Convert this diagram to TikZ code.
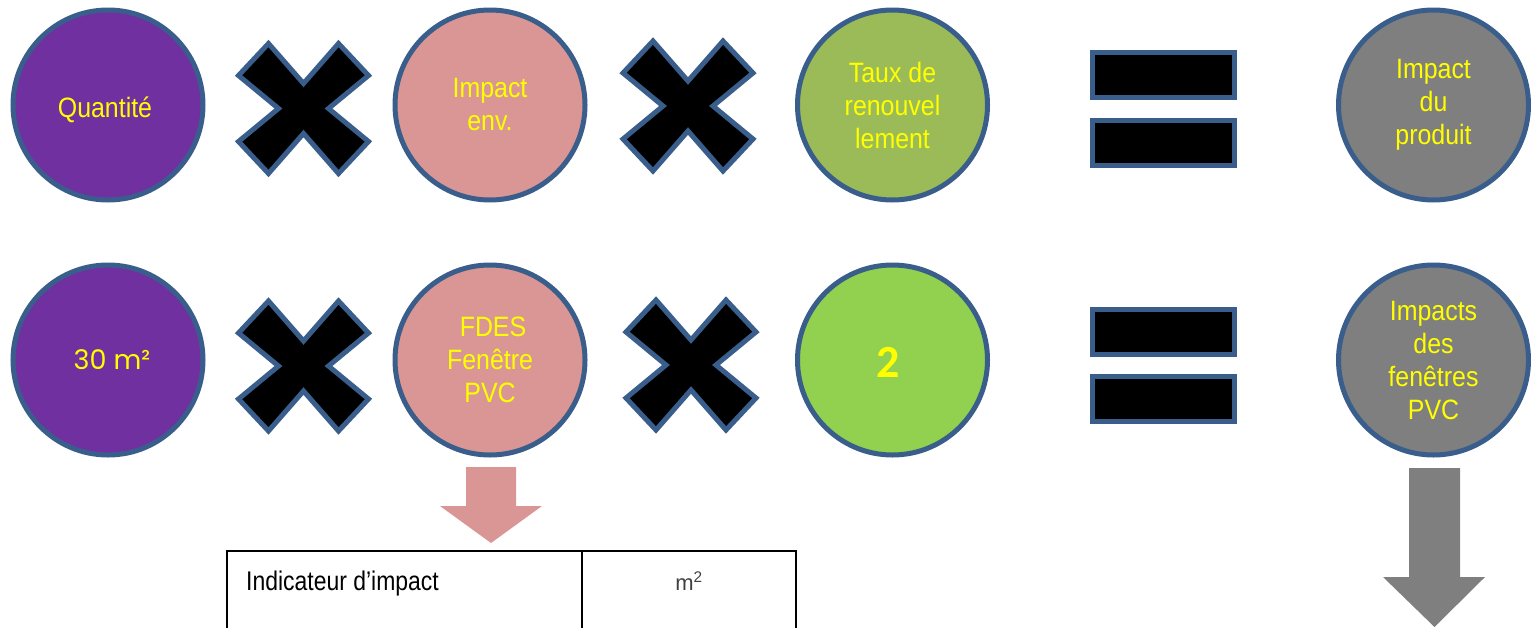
\documentclass[tikz,border=0pt]{standalone}
\usepackage{fontspec}
\setmainfont{Liberation Sans}
\newfontfamily\circfont[FakeStretch=0.89]{Liberation Sans}
\newfontfamily\tabfont[FakeStretch=0.85]{Liberation Sans}
\newfontfamily\geofont{Poppins}
\newfontfamily\calfont{Carlito}

\definecolor{edge}{HTML}{3A5E8C}
\definecolor{violet}{HTML}{7030A0}
\definecolor{rose}{HTML}{D99694}
\definecolor{olive}{HTML}{9BBB59}
\definecolor{lime}{HTML}{92D050}
\definecolor{slate}{HTML}{7F7F7F}
\definecolor{gold}{HTML}{FFFF00}
\definecolor{unitgray}{HTML}{404040}

\tikzset{
  disc/.style={circle, draw=edge, line width=5pt, minimum size=190pt,
    inner sep=0pt, align=center, text=gold,
    font=\circfont\fontsize{28}{33}\selectfont},
  eqbar/.style={rectangle, draw=edge, fill=black, line width=5pt,
    minimum width=142pt, minimum height=45pt, inner sep=0pt},
  crossbody/.style={fill=black, draw=edge, line width=5pt, line join=miter},
  timessign/.pic={
    \filldraw[crossbody] (0,-25) -- (35,-65) -- (65,-33) -- (25,0)
      -- (65,33) -- (35,65) -- (0,25) -- (-35,65) -- (-65,33)
      -- (-25,0) -- (-65,-33) -- (-35,-65) -- cycle;
  },
  gridline/.style={draw=black, line width=2.5pt},
}

\begin{document}
\begin{tikzpicture}[x=1pt, y=-1pt]
\useasboundingbox (0,0) rectangle (1531,627);
\clip (0,0) rectangle (1531,627);

% general formula
\node[disc, fill=violet, text height=24pt, text depth=0pt] (qty) at (108,105) {\hspace{-6pt}Quantité};
\pic (mulA) at (303.5,108.5) {timessign};
\node[disc, fill=rose] (env) at (490,105) {Impact\\env.};
\pic (mulB) at (688,106) {timessign};
\node[disc, fill=olive] (rate) at (892.5,105) {Taux de\\renouvel\\lement};
\node[eqbar] (eqAtop) at (1163.5,75) {};
\node[eqbar] (eqAbot) at (1163.5,142.5) {};
\node[disc, fill=slate] (prod) at (1433.5,105) {Impact\\du\\produit};

% worked example
\node[disc, fill=violet, font=\geofont\fontsize{27}{30}\selectfont] (area) at (108,360) {\hspace{8pt}30 m²};
\pic (mulC) at (303.5,366) {timessign};
\node[disc, fill=rose] (fdes) at (490,360) {\hspace{6pt}FDES\\Fenêtre\\PVC};
\pic (mulD) at (691,365) {timessign};
\node[disc, fill=lime, text height=35pt, text depth=0pt,
  font=\calfont\bfseries\fontsize{46}{50}\selectfont] (two) at (892.5,360) {\hspace{-9pt}2};
\node[eqbar] (eqBtop) at (1163.5,332) {};
\node[eqbar] (eqBbot) at (1163.5,399) {};
\node[disc, fill=slate] (win) at (1433.5,360) {Impacts\\des\\fenêtres\\PVC};

% block arrows
\fill[rose] (466,467) -- (516,467) -- (516,506) -- (542,506) -- (491,543)
  -- (440,506) -- (466,506) -- cycle;
\fill[slate] (1409,468) -- (1460,468) -- (1460,577) -- (1485,577)
  -- (1434.5,627) -- (1383,577) -- (1409,577) -- cycle;

% indicator table
\draw[gridline] (227,640) -- (227,551) -- (796,551) -- (796,640);
\draw[gridline] (582,551) -- (582,640);
\node[anchor=base west, inner sep=0pt, font=\tabfont\fontsize{27}{30}\selectfont]
  (indic) at (246,590) {Indicateur d’impact};
\node[anchor=base, inner sep=0pt, text=unitgray, font=\fontsize{22}{26}\selectfont]
  (unit) at (689,590) {m\textsuperscript{2}};
\end{tikzpicture}
\end{document}
